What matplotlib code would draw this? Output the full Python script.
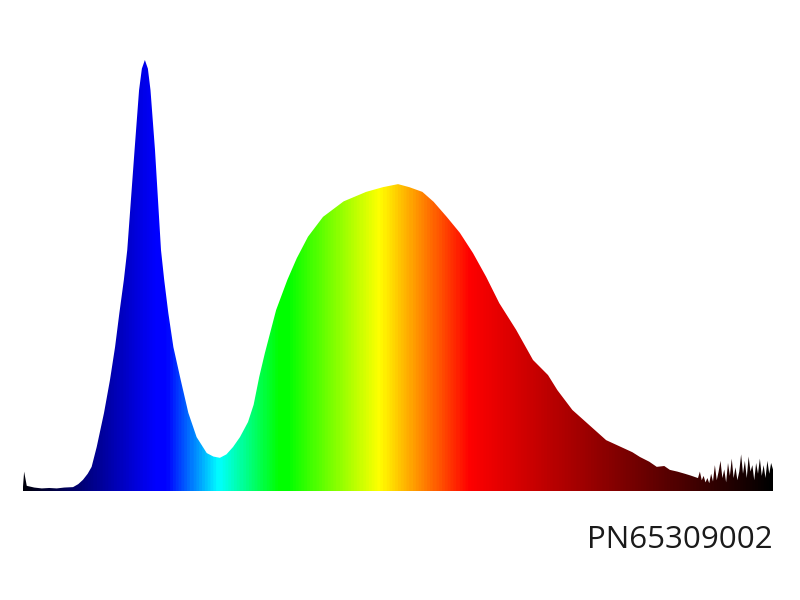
import numpy as np
import matplotlib.pyplot as plt
from matplotlib.colors import LinearSegmentedColormap
from matplotlib.patches import Polygon

# spectrum (nm, relative intensity)
wavelength = [380, 380.6, 382, 386, 390, 394, 398, 402, 406.7, 409.5, 412, 414.5, 416.6,
              419.3, 423.2, 426.4, 429.1, 431.4, 433.8, 435.6, 439.5, 441.9, 443.4, 445,
              446.6, 448, 450.4, 453.6, 455.3, 457.5, 460.2, 464.1, 468.2, 472.6, 478,
              481.5, 485, 488.5, 492, 495.7, 500, 503, 506, 509, 512, 515, 518, 521, 526,
              532, 540, 551, 563, 572, 580, 586, 593, 599, 606, 613, 620, 627, 634, 643,
              652, 660, 665, 673, 682, 691, 700, 705, 709, 714, 718, 722, 725, 729, 733,
              736,
              740, 741, 742, 743, 744, 745, 746, 747, 748, 749, 750, 751, 752, 753, 754,
              755, 756, 757, 758, 759, 760, 761, 762, 763, 764, 765, 766, 767, 768, 769,
              770, 771, 772, 773, 774, 775, 776, 777, 778, 779, 780]
intensity = [0.010, 0.045, 0.012, 0.008, 0.006, 0.007, 0.006, 0.008, 0.009, 0.016, 0.026,
             0.040, 0.056, 0.102, 0.181, 0.258, 0.334, 0.413, 0.490, 0.559, 0.791, 0.930,
             0.980, 1.000, 0.980, 0.930, 0.791, 0.559, 0.490, 0.413, 0.334, 0.258, 0.181,
             0.125, 0.088, 0.080, 0.077, 0.085, 0.102, 0.125, 0.160, 0.200, 0.265, 0.320,
             0.370, 0.420, 0.455, 0.490, 0.540, 0.590, 0.636, 0.672, 0.694, 0.705, 0.712,
             0.705, 0.694, 0.671, 0.636, 0.599, 0.552, 0.497, 0.436, 0.374, 0.304, 0.269,
             0.234, 0.188, 0.153, 0.118, 0.100, 0.090, 0.079, 0.068, 0.056, 0.058, 0.049,
             0.045, 0.040, 0.036,
             0.030, 0.045, 0.025, 0.035, 0.020, 0.030, 0.018, 0.040, 0.022, 0.060, 0.025,
             0.045, 0.070, 0.030, 0.050, 0.020, 0.065, 0.035, 0.075, 0.030, 0.055, 0.025,
             0.045, 0.085, 0.040, 0.070, 0.030, 0.080, 0.045, 0.060, 0.025, 0.065, 0.040,
             0.075, 0.035, 0.060, 0.030, 0.070, 0.040, 0.065, 0.050]
label = "PN65309002"

# colour stops along the wavelength axis
stops = [(380, (0.0, 0.0, 0.05)), (450, (0.0, 0.0, 1.0)), (456, (0.0, 0.0, 1.0)),
         (484, (0.0, 1.0, 1.0)), (516, (0.0, 1.0, 0.0)), (521, (0.0, 1.0, 0.0)),
         (570, (1.0, 1.0, 0.0)), (618, (1.0, 0.0, 0.0)), (780, (0.0, 0.0, 0.0))]
cmap = LinearSegmentedColormap.from_list(
    "spec", [((w - 380) / 400, c) for w, c in stops])

fig = plt.figure(figsize=(8, 6), dpi=100)
ax = fig.add_axes([23 / 800, 109 / 600, 750 / 800, 451 / 600])
ax.set_xlim(380, 780)
ax.set_ylim(0, 451 / 431)
ax.axis("off")

verts = [(wavelength[0], 0)] + list(zip(wavelength, intensity)) + [(wavelength[-1], 0)]
poly = Polygon(verts, closed=True, facecolor="none", edgecolor="none")
ax.add_patch(poly)

grad = np.linspace(0, 1, 800).reshape(1, -1)
img = ax.imshow(grad, cmap=cmap, aspect="auto", extent=[380, 780, 0, 451 / 431],
                interpolation="bilinear")
img.set_clip_path(poly)

fig.text(773 / 800, 1 - 540 / 600, label, ha="right", va="center",
         fontsize=22.5, family="Open Sans", color="#1a1a1a")

fig.savefig("out.png")
